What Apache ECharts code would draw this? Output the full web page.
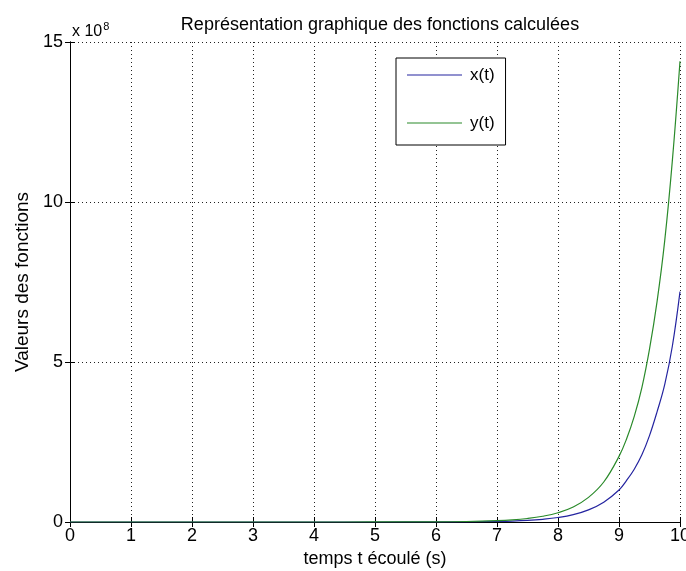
<!DOCTYPE html>
<html>
<head>
<meta charset="utf-8">
<script src="https://cdn.jsdelivr.net/npm/echarts@6/dist/echarts.min.js"></script>
<style>html,body{margin:0;padding:0;background:#fff;}#c{width:686px;height:571px;}</style>
</head>
<body>
<div id="c"></div>
<script>
// time samples (s)
var tValues = [0, 1, 2, 3, 4, 5, 6, 6.5, 7, 7.25, 7.5, 7.75, 8, 8.25, 8.5, 8.75, 9, 9.125, 9.25, 9.375, 9.5, 9.625, 9.75, 9.875, 10];
// values in units of 1e8
var xValues = [0, 0, 0, 0, 0, 0.0005, 0.003, 0.007, 0.02, 0.03, 0.05, 0.085, 0.14, 0.23, 0.38, 0.62, 1.0, 1.3, 1.65, 2.1, 2.7, 3.45, 4.3, 5.5, 7.2];
var yValues = [0, 0, 0, 0, 0, 0.001, 0.005, 0.015, 0.04, 0.065, 0.11, 0.18, 0.29, 0.47, 0.77, 1.25, 2.05, 2.6, 3.3, 4.2, 5.4, 6.9, 8.8, 11.3, 14.4];
var xTicks = [0, 1, 2, 3, 4, 5, 6, 7, 8, 9, 10];
var yTicks = [0, 5, 10, 15];
var seriesNames = ['x(t)', 'y(t)'];

function pairs(vals) { return tValues.map(function (t, i) { return [t, vals[i]]; }); }

var font = 'Liberation Sans';
var chart = echarts.init(document.getElementById('c'));
var gridLine = { show: true, lineStyle: { color: '#222', type: [1, 3], width: 1 } };
var axLine = { show: true, lineStyle: { color: '#000', width: 1 } };
var tick = { show: true, inside: true, length: 5, lineStyle: { color: '#000' } };
chart.setOption({
  backgroundColor: '#fff',
  animation: false,
  title: [
    { text: 'Représentation graphique des fonctions calculées', left: 375, textAlign: 'center', top: 11,
      textStyle: { fontFamily: font, fontSize: 18, fontWeight: 'normal', color: '#000' } },
    { text: 'x 10{s|8}', left: 67, top: 16,
      textStyle: { fontFamily: font, fontSize: 16, fontWeight: 'normal', color: '#000',
        rich: { s: { fontFamily: font, fontSize: 11, verticalAlign: 'top', padding: [0, 0, 10, 1], color: '#000' } } } }
  ],
  legend: {
    orient: 'vertical', left: 396, top: 58,
    data: seriesNames,
    icon: 'rect',
    itemWidth: 55, itemHeight: 1.2, itemGap: 30,
    padding: [8, 11, 13, 11],
    borderColor: '#000', borderWidth: 1, backgroundColor: '#fff',
    textStyle: { fontFamily: font, fontSize: 17, lineHeight: 18, color: '#000', padding: [0, 0, 0, 3] }
  },
  grid: { left: 70, right: 6, top: 42, bottom: 49, containLabel: false, outerBoundsMode: 'none' },
  xAxis: [
    { type: 'value', min: 0, max: 10, interval: 1, position: 'bottom',
      name: 'temps t écoulé (s)', nameLocation: 'middle', nameGap: 27,
      nameTextStyle: { fontFamily: font, fontSize: 18, color: '#000' },
      axisLine: axLine, axisTick: tick, splitLine: gridLine,
      axisLabel: { fontFamily: font, fontSize: 18, color: '#000', margin: 5,
        formatter: function (v) { return xTicks.indexOf(v) >= 0 ? String(v) : ''; } } },
    { type: 'value', min: 0, max: 10, interval: 1, position: 'top',
      axisLine: axLine, axisTick: tick, splitLine: { show: false }, axisLabel: { show: false } }
  ],
  yAxis: [
    { type: 'value', min: 0, max: 15, interval: 5, position: 'left',
      name: 'Valeurs des fonctions', nameLocation: 'middle', nameGap: 38, nameRotate: 90,
      nameTextStyle: { fontFamily: font, fontSize: 19, color: '#000' },
      axisLine: axLine, axisTick: tick, splitLine: gridLine,
      axisLabel: { fontFamily: font, fontSize: 18, color: '#000', margin: 7,
        formatter: function (v) { return yTicks.indexOf(v) >= 0 ? String(v) : ''; } } },
    { type: 'value', min: 0, max: 15, interval: 5, position: 'right',
      axisLine: axLine, axisTick: tick, splitLine: { show: false }, axisLabel: { show: false } }
  ],
  series: [
    { name: seriesNames[0], type: 'line', data: pairs(xValues), symbol: 'none', smooth: 0.4,
      lineStyle: { color: '#2424a0', width: 1.2 }, itemStyle: { color: '#2424a0' }, z: 3 },
    { name: seriesNames[1], type: 'line', data: pairs(yValues), symbol: 'none', smooth: 0.4,
      lineStyle: { color: '#2a8a2a', width: 1.2 }, itemStyle: { color: '#2a8a2a' }, z: 4 }
  ]
});
</script>
</body>
</html>
